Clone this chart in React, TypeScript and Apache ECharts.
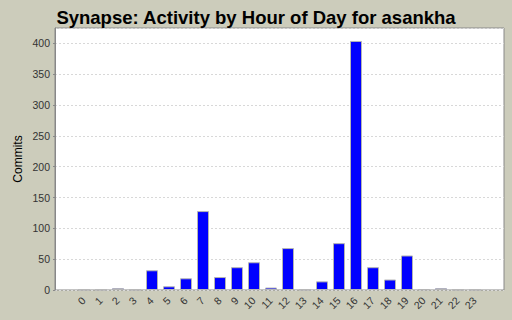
import React, { useEffect, useRef } from "react";
import * as echarts from "echarts";

const hours = ["0","1","2","3","4","5","6","7","8","9","10","11","12","13","14","15","16","17","18","19","20","21","22","23"];
const commits = [0, 0, 3, 0, 32, 6, 19, 128, 21, 37, 45, 4, 68, 0, 14, 76, 404, 37, 17, 56, 1, 3, 0, 0];
const yTicks = { min: 0, max: 425, interval: 50 };

export default function App() {
  const ref = useRef<HTMLDivElement>(null);
  useEffect(() => {
    const chart = echarts.init(ref.current!, null, { renderer: "svg" });
    const font = "'Liberation Sans', Arial, sans-serif";
    chart.setOption({
      animation: false,
      backgroundColor: "#CCCCBB",
      title: {
        text: "Synapse: Activity by Hour of Day for asankha",
        left: "center",
        top: 3,
        textStyle: { fontFamily: font, fontWeight: "bold", fontSize: 18.5, color: "#000" },
      },
      grid: [
        { left: 55, right: 8, top: 28, bottom: 30, show: true, backgroundColor: "#FFFFFF", borderColor: "#888888", borderWidth: 1 },
        { left: 75.5, right: 28.5, top: 28, bottom: 30 },
      ],
      xAxis: [
        { type: "category", gridIndex: 0, data: [""], show: false },
        {
          type: "category",
          gridIndex: 1,
          data: hours,
          axisLine: { show: false },
          axisTick: { show: false },
          axisLabel: { rotate: 45, fontSize: 10.5, color: "#333", fontFamily: font, margin: 9, interval: 0 },
        },
      ],
      yAxis: [
        {
          type: "value",
          gridIndex: 0,
          min: yTicks.min,
          max: yTicks.max,
          interval: yTicks.interval,
          name: "Commits",
          nameLocation: "middle",
          nameGap: 31,
          nameMoveOverlap: false,
          nameTextStyle: { fontFamily: font, fontSize: 12, color: "#000" },
          axisLine: { show: true, lineStyle: { color: "#888888" } },
          axisTick: { show: true, length: 2, lineStyle: { color: "#888888" } },
          axisLabel: { fontSize: 10.5, color: "#333", fontFamily: font, margin: 5, showMaxLabel: false },
          splitLine: { show: true, lineStyle: { color: "#D8D8D8", type: [2, 2] } },
        },
        { type: "value", gridIndex: 1, min: yTicks.min, max: yTicks.max, show: false, splitLine: { show: false } },
      ],
      series: [
        {
          type: "bar",
          xAxisIndex: 1,
          yAxisIndex: 1,
          data: commits,
          barWidth: 12,
          itemStyle: { color: "#0000FF", borderColor: "#B4B4B4", borderWidth: 1 },
        },
      ],
    });
    return () => chart.dispose();
  }, []);
  return <div ref={ref} style={{ position: "fixed", left: 0, top: 0, width: 512, height: 320 }} />;
}
